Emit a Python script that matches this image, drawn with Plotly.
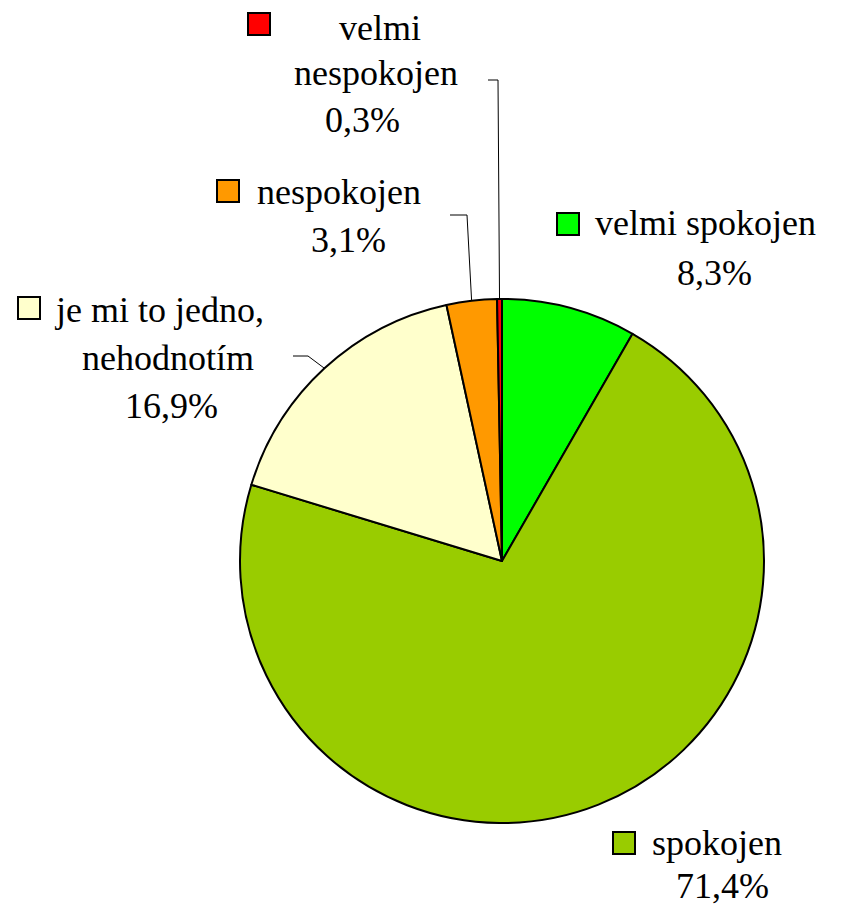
import math
import plotly.graph_objects as go

categories = ["velmi spokojen", "spokojen", "je mi to jedno, nehodnotím", "nespokojen", "velmi nespokojen"]
values = [8.3, 71.4, 16.9, 3.1, 0.3]
value_labels = ["8,3%", "71,4%", "16,9%", "3,1%", "0,3%"]
colors = ["#00FF00", "#99CC00", "#FFFFCC", "#FF9900", "#FF0000"]

OFF = 8  # page body margin
W, H = 842 - OFF, 909 - OFF
CX, CY, R = 502, 561, 262
FONT = dict(family="Liberation Serif, Times New Roman, serif", size=36, color="black")


def px(x):
    return (x - OFF) / W


def py(y):
    return 1 - (y - OFF) / H


fig = go.Figure(go.Pie(
    labels=categories, values=values, sort=False, direction="clockwise", rotation=0,
    marker=dict(colors=colors, line=dict(color="black", width=2)),
    textinfo="none", hoverinfo="label+percent", showlegend=False,
    domain=dict(x=[px(CX - R), px(CX + R)], y=[py(CY + R), py(CY - R)]),
))

label_layout = {
    "velmi nespokojen": dict(sq=(248, 13), lines=[("velmi", 380, 40, "center"), ("nespokojen", 376, 85, "center"), (None, 362, 132, "center")],
                             leader=[(488, 80), (498, 80)]),
    "nespokojen": dict(sq=(217, 180), lines=[("nespokojen", 255, 204, "left"), (None, 348, 252, "center")],
                       leader=[(450, 215), (467, 215)]),
    "je mi to jedno, nehodnotím": dict(sq=(18, 297), lines=[("je mi to jedno,", 52, 322, "left"), ("nehodnotím", 168, 370, "center"), (None, 171, 418, "center")],
                                       leader=[(293, 356), (308, 356)]),
    "velmi spokojen": dict(sq=(557, 213), lines=[("velmi spokojen", 593, 235, "left"), (None, 714, 285, "center")],
                           leader=None),
    "spokojen": dict(sq=(613, 832), lines=[("spokojen", 650, 855, "left"), (None, 722, 898, "center")],
                     leader=None),
}

total = sum(values)
cum = 0.0
shapes = []
annotations = []
for cat, val, vl, col in zip(categories, values, value_labels, colors):
    mid = (cum + val / 2) / total * 2 * math.pi
    cum += val
    lay = label_layout[cat]
    sx, sy = lay["sq"]
    shapes.append(dict(type="rect", xref="paper", yref="paper",
                       x0=px(sx), x1=px(sx + 22), y0=py(sy + 22), y1=py(sy),
                       fillcolor=col, line=dict(color="black", width=2)))
    for text, x, base, anchor in lay["lines"]:
        annotations.append(dict(text=text if text else vl, x=px(x), y=py(base - 12),
                                xref="paper", yref="paper", xanchor=anchor, yanchor="middle",
                                showarrow=False, font=FONT))
    if lay["leader"]:
        ex = CX + R * math.sin(mid)
        ey = CY - R * math.cos(mid)
        pts = lay["leader"] + [(ex, ey)]
        path = "M " + " L ".join(f"{px(a)},{py(b)}" for a, b in pts)
        shapes.append(dict(type="path", xref="paper", yref="paper", path=path,
                           line=dict(color="black", width=1)))

fig.update_layout(width=W, height=H, margin=dict(l=0, r=0, t=0, b=0),
                  paper_bgcolor="white", plot_bgcolor="white",
                  font=FONT,
                  shapes=shapes, annotations=annotations)
fig.write_html("out.html")
